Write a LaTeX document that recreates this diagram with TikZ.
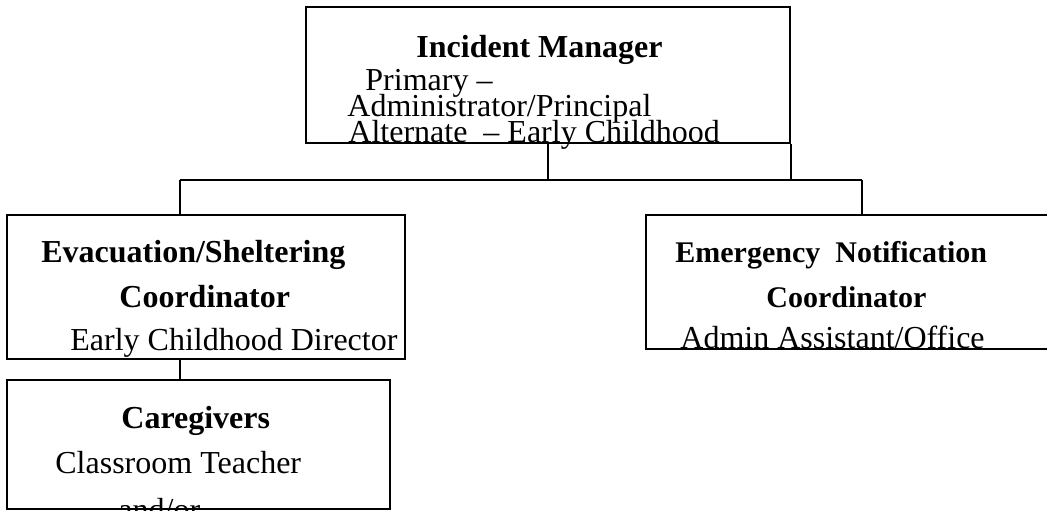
\documentclass[tikz,border=0pt]{standalone}
\usepackage{fontspec}
\setmainfont{Liberation Serif}
\usetikzlibrary{positioning}

\begin{document}
\begin{tikzpicture}[
    x=0.5pt, y=-0.5pt,
    every node/.style={font=\fontsize{16}{19}\selectfont},
    box/.style 2 args={rectangle, draw, line width=1pt, inner sep=0pt, minimum width=#1*0.5pt, minimum height=#2*0.5pt},
    head/.style={anchor=base west, inner sep=0pt, font=\fontsize{16}{19}\selectfont\bfseries},
    body/.style={anchor=base west, inner sep=0pt},
    link/.style={line width=0.7pt},
]
\clip (0,0) rectangle (1047,510);

% --- Incident manager ---
\node[box={484}{136}] (mgr) at (548, 75) {};
\node[head] (mgr-title) at (416, 57) {Incident Manager};
\node[body] (mgr-prim) at (365, 90) {Primary --};
\node[body] (mgr-admin) at (347, 116) {Administrator/Principal};
\node[body] (mgr-alt) at (348, 142) {Alternate\ \ -- Early Childhood};

% --- Evacuation / sheltering ---
\node[box={398}{144}] (evac) at (206, 287) {};
\node[head] (evac-title) at (41, 262) {Evacuation/Sheltering};
\node[head] (evac-coord) at (119, 307) {Coordinator};
\node[body] (evac-who) at (70, 350) {Early Childhood Director};

% --- Emergency notification ---
\node[box={414}{134}] (notif) at (853, 282) {};
\node[head, font=\fontsize{15}{18}\selectfont\bfseries] (notif-title) at (675, 262) {Emergency\ \ Notification};
\node[head, font=\fontsize{15}{18}\selectfont\bfseries] (notif-coord) at (766, 307) {Coordinator};
\node[body] (notif-who) at (680, 348) {Admin Assistant/Office};

% --- Caregivers ---
\node[box={383}{129}] (care) at (198.5, 444.5) {};
\node[head] (care-title) at (121, 428) {Caregivers};
\node[body] (care-who) at (55, 473) {Classroom Teacher};
\node[body] (care-or) at (118, 520) {and/or};

% connectors
\coordinate (busL) at (180, 180);
\coordinate (busR) at (862, 180);
\draw[link] (busL) -- (busR);
\draw[link] (mgr.south) -- (mgr.south |- busL);
\draw[line width=1pt] (mgr.south east) -- (mgr.south east |- busL);
\draw[link] (busL) -- (busL |- evac.north);
\draw[link] (busR) -- (busR |- notif.north);
\draw[link] (evac.south -| busL) -- (care.north -| busL);

\end{tikzpicture}
\end{document}
